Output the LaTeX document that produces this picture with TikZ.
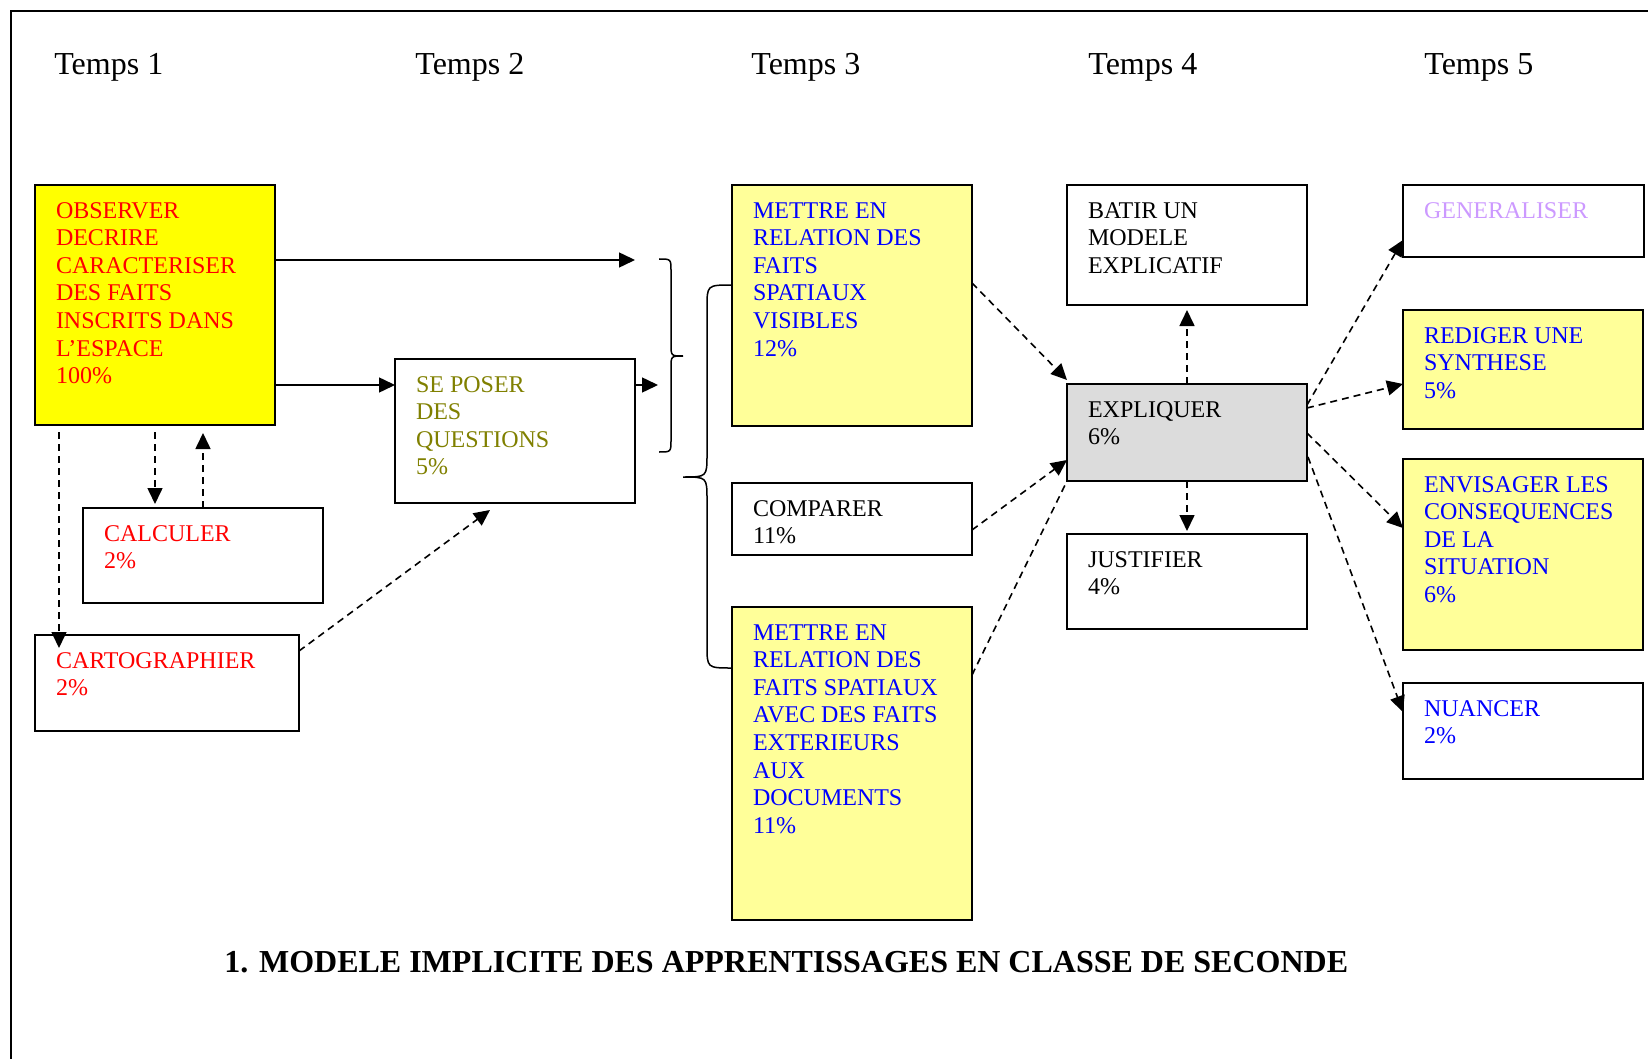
\documentclass[tikz,border=0pt]{standalone}
\usepackage{fontspec}
\setmainfont{Liberation Serif}
\usetikzlibrary{arrows.meta,calc}
\definecolor{cred}{HTML}{FF0000}
\definecolor{colive}{HTML}{808000}
\definecolor{cblue}{HTML}{0000FF}
\definecolor{clav}{HTML}{CC99FF}
\definecolor{cyel}{HTML}{FFFF00}
\definecolor{clyel}{HTML}{FFFF99}
\definecolor{cgray}{HTML}{DCDCDC}
\begin{document}
\begin{tikzpicture}[x=0.5pt,y=-0.5pt,
  box/.style={draw, line width=1pt, inner sep=0pt, outer sep=0pt, anchor=north west},
  txt/.style={inner sep=0pt, outer sep=0pt, anchor=north west, align=left, font=\fontsize{12}{13.8}\selectfont},
  temps/.style={inner sep=0pt, anchor=base west, font=\fontsize{16}{18}\selectfont},
  sarrow/.style={line width=0.75pt, -{Triangle[length=8pt,width=7.5pt]}},
  darrow/.style={line width=0.8pt, dash pattern=on 3.5pt off 2.5pt, -{Triangle[length=8pt,width=7.5pt]}},
  dline/.style={line width=0.8pt, dash pattern=on 3.5pt off 2.5pt},
  brace/.style={line width=0.75pt}]
\useasboundingbox (0,0) rectangle (1648,1059);
% frame
\draw[line width=1pt] (11,1059) -- (11,11) -- (1648,11);
% headings
\node[temps] (t1) at (54,75) {Temps 1};
\node[temps] (t2) at (415,75) {Temps 2};
\node[temps] (t3) at (751,75) {Temps 3};
\node[temps] (t4) at (1088,75) {Temps 4};
\node[temps] (t5) at (1424,75) {Temps 5};
% boxes
\node[box, fill=cyel, minimum width=120pt, minimum height=120pt] (obs) at (35,185) {};
\node[box, minimum width=120pt, minimum height=47.5pt] (calc) at (83,508) {};
\node[box, minimum width=132pt, minimum height=48pt] (carto) at (35,635) {};
\node[box, minimum width=120pt, minimum height=72pt] (sep) at (395,359) {};
\node[box, fill=clyel, minimum width=120pt, minimum height=120.5pt] (met1) at (732,185) {};
\node[box, minimum width=120pt, minimum height=36pt] (comp) at (732,483) {};
\node[box, fill=clyel, minimum width=120pt, minimum height=156.5pt] (met2) at (732,607) {};
\node[box, minimum width=120pt, minimum height=60pt] (bat) at (1067,185) {};
\node[box, fill=cgray, minimum width=120pt, minimum height=48.5pt] (expl) at (1067,384) {};
\node[box, minimum width=120pt, minimum height=47.5pt] (just) at (1067,534) {};
\node[box, minimum width=120.5pt, minimum height=36pt] (gen) at (1403,185) {};
\node[box, fill=clyel, minimum width=120pt, minimum height=59.5pt] (red) at (1403,310) {};
\node[box, fill=clyel, minimum width=120pt, minimum height=95.5pt] (env) at (1403,459) {};
\node[box, minimum width=120pt, minimum height=48pt] (nua) at (1403,683) {};
% texts
\newcommand{\tpos}[1]{([shift={(10.5pt,-6.9pt)}]#1.north west)}
\node[txt, text=cred] (obs-t) at \tpos{obs} {\strut OBSERVER\\DECRIRE\\CARACTERISER\\DES FAITS\\INSCRITS DANS\\L’ESPACE\\100\%};
\node[txt, text=cred] (calc-t) at \tpos{calc} {\strut CALCULER\\2\%};
\node[txt, text=cred] (carto-t) at \tpos{carto} {\strut CARTOGRAPHIER\\2\%};
\node[txt, text=colive] (sep-t) at \tpos{sep} {\strut SE POSER\\DES\\QUESTIONS\\5\%};
\node[txt, text=cblue] (met1-t) at \tpos{met1} {\strut METTRE EN\\RELATION DES\\FAITS\\SPATIAUX\\VISIBLES\\12\%};
\node[txt] (comp-t) at \tpos{comp} {\strut COMPARER\\11\%};
\node[txt, text=cblue] (met2-t) at \tpos{met2} {\strut METTRE EN\\RELATION DES\\FAITS SPATIAUX\\AVEC DES FAITS\\EXTERIEURS\\AUX\\DOCUMENTS\\11\%};
\node[txt] (bat-t) at \tpos{bat} {\strut BATIR UN\\MODELE\\EXPLICATIF};
\node[txt] (expl-t) at \tpos{expl} {\strut EXPLIQUER\\6\%};
\node[txt] (just-t) at \tpos{just} {\strut JUSTIFIER\\4\%};
\node[txt, text=clav] (gen-t) at \tpos{gen} {\strut GENERALISER};
\node[txt, text=cblue] (red-t) at \tpos{red} {\strut REDIGER UNE\\SYNTHESE\\5\%};
\node[txt, text=cblue] (env-t) at \tpos{env} {\strut ENVISAGER LES\\CONSEQUENCES\\DE LA\\SITUATION\\6\%};
\node[txt, text=cblue] (nua-t) at \tpos{nua} {\strut NUANCER\\2\%};
% title
\node[inner sep=0pt, anchor=base west, font=\fontsize{16}{18}\selectfont\bfseries] (title) at (224,972) {1. MODELE IMPLICITE DES APPRENTISSAGES EN CLASSE DE SECONDE};
% free ends
\coordinate (e1) at (635,260);
\coordinate (e2) at (658,385);
% solid arrows
\draw[sarrow] ($(obs.north east)+(0,75)$) -- (e1);
\draw[sarrow] ($(obs.north east)+(0,200)$) -- ($(sep.north west)+(0,26)$);
\draw[sarrow] ($(sep.north east)+(0,26)$) -- (e2);
% braces
\draw[brace] (659,259) .. controls (671,259) .. (671,271) -- (671,344) .. controls (671,356) .. (683,356)
  .. controls (671,356) .. (671,368) -- (671,440) .. controls (671,452) .. (659,452);
\draw[brace] (met1.west |- 0,285) .. controls (707,285) .. (707,308) -- (707,454) .. controls (707,477) .. (683,477)
  .. controls (707,477) .. (707,500) -- (707,645) .. controls (707,668) .. (met2.west |- 0,668);
% dashed arrows left
\draw[darrow] ($(obs.south west)+(24,7)$) -- ($(carto.north west)+(24,13)$);
\draw[darrow] ($(obs.south west)+(120,7)$) -- ($(calc.north west)+(72,-4)$);
\draw[darrow] ($(calc.north west)+(120,0)$) -- ($(obs.south west)+(168,8)$);
\draw[darrow] ($(carto.north east)+(0,16)$) -- ($(sep.south west)+(95,7)$);
% to EXPLIQUER
\draw[darrow] ($(met1.north east)+(0,98)$) -- ($(expl.north west)+(0,-4)$);
\draw[darrow] ($(comp.north east)+(0,47)$) -- ($(expl.north west)+(0,76)$);
\draw[dline] ($(met2.north east)+(0,68)$) -- (expl.south west);
% vertical from EXPLIQUER
\draw[darrow] ($(expl.north west)+(120,0)$) -- ($(bat.south west)+(120,5)$);
\draw[darrow] ($(expl.south west)+(120,0)$) -- ($(just.north west)+(120,-3)$);
% to Temps 5
\draw[darrow] ($(expl.north east)+(0,21)$) -- ($(gen.north west)+(0,55)$);
\draw[darrow] ($(expl.north east)+(0,24)$) -- ($(red.north west)+(0,74)$);
\draw[darrow] ($(expl.north east)+(0,49)$) -- ($(env.north west)+(0,69)$);
\draw[darrow] ($(expl.north east)+(1,73)$) -- ($(nua.north west)+(0,29)$);
\end{tikzpicture}
\end{document}
